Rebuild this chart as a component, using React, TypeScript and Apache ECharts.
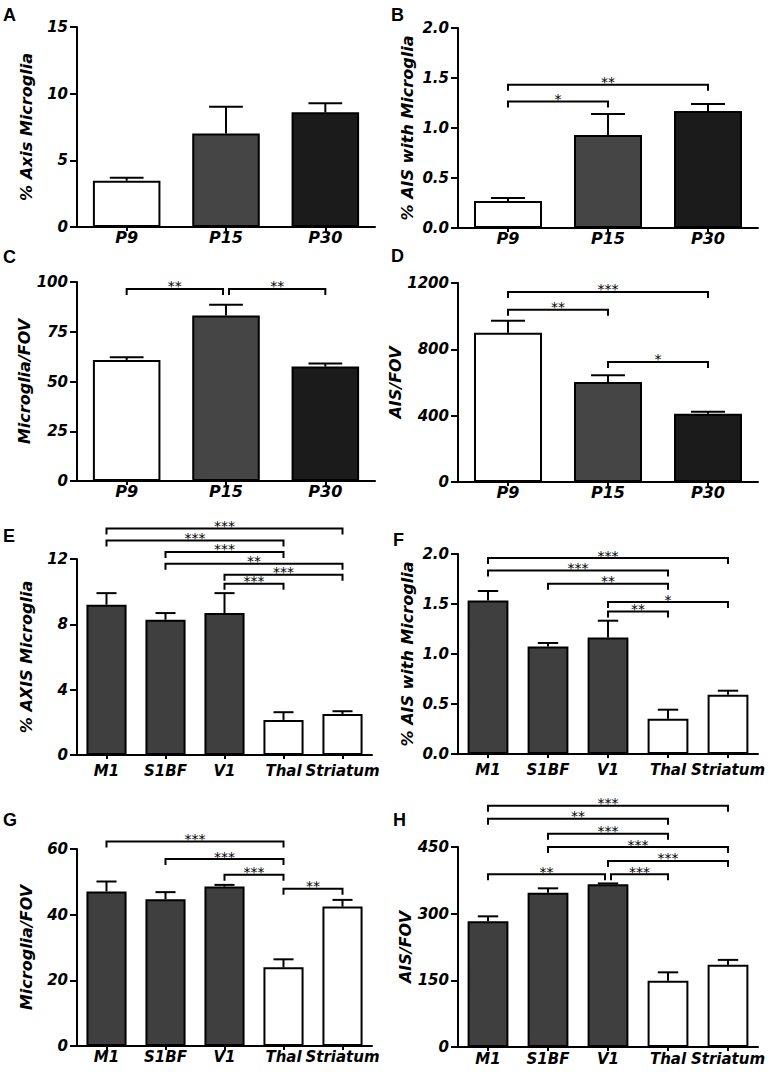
import React, { useEffect, useRef } from "react";
import * as echarts from "echarts";

const agesCats = ["P9", "P15", "P30"];
const regionCats = ["M1", "S1BF", "V1", "Thal", "Striatum"];

const aMean = [3.47, 7.02, 8.6];
const aSem = [0.23, 2.0, 0.68];
const bMean = [0.27, 0.93, 1.17];
const bSem = [0.03, 0.21, 0.07];
const cMean = [60.8, 83.2, 57.5];
const cSem = [1.4, 5.4, 1.5];
const dMean = [900, 603, 412];
const dSem = [73, 40, 12];
const eMean = [9.2, 8.28, 8.69, 2.15, 2.51];
const eSem = [0.71, 0.41, 1.22, 0.47, 0.17];
const fMean = [1.536, 1.076, 1.166, 0.353, 0.593];
const fSem = [0.094, 0.034, 0.167, 0.09, 0.04];
const gMean = [47.05, 44.7, 48.57, 23.95, 42.46];
const gSem = [3.05, 2.16, 0.5, 2.45, 2.04];
const hMean = [283, 347, 366, 149, 185];
const hSem = [11, 10, 2, 19, 11];

// [from category, to category, bracket level, stars]
const bBrackets: [number, number, number, string][] = [
  [0, 1, 1.266, "*"],
  [0, 2, 1.433, "**"],
];
const cBrackets: [number, number, number, string][] = [
  [0, 1, 96.5, "**"],
  [1, 2, 96.5, "**"],
];
const dBrackets: [number, number, number, string][] = [
  [0, 2, 1146, "***"],
  [0, 1, 1039, "**"],
  [1, 2, 724, "*"],
];
const eBrackets: [number, number, number, string][] = [
  [0, 4, 13.86, "***"],
  [0, 3, 13.14, "***"],
  [1, 3, 12.43, "***"],
  [1, 4, 11.71, "**"],
  [2, 4, 11.04, "***"],
  [2, 3, 10.49, "***"],
];
const fBrackets: [number, number, number, string][] = [
  [0, 4, 1.96, "***"],
  [0, 3, 1.836, "***"],
  [1, 3, 1.703, "**"],
  [2, 4, 1.52, "*"],
  [2, 3, 1.426, "**"],
];
const gBrackets: [number, number, number, string][] = [
  [0, 3, 62.3, "***"],
  [1, 3, 56.94, "***"],
  [2, 3, 52.15, "***"],
  [3, 4, 47.87, "**"],
];
const hBrackets: [number, number, number, string][] = [
  [0, 4, 543, "***"],
  [0, 3, 513.7, "**"],
  [1, 3, 480, "***"],
  [1, 4, 450, "***"],
  [2, 4, 418.6, "***"],
  [0, 2, 388.8, "**"],
  [2, 3, 388.8, "***"],
];

const ageColors = ["#ffffff", "#454545", "#1b1b1b"];
const regionColors = ["#3f3f3f", "#3f3f3f", "#3f3f3f", "#ffffff", "#ffffff"];

const FONT = '"DejaVu Sans", "Liberation Sans", Arial, sans-serif';

type Panel = {
  letter: string;
  letterPos: [number, number];
  grid: { left: number; top: number; width: number; height: number };
  cats: string[];
  mean: number[];
  sem: number[];
  colors: string[];
  max: number;
  interval: number;
  decimals: number;
  yName: string;
  brackets: [number, number, number, string][];
  catMargin: number;
  catFont: number;
};

const panels: Panel[] = [
  { letter: "A", letterPos: [3, 6], grid: { left: 77, top: 27, width: 298, height: 200 }, cats: agesCats, mean: aMean, sem: aSem, colors: ageColors, max: 15, interval: 5, decimals: 0, yName: "% Axis Microglia", brackets: [], catMargin: 2, catFont: 16 },
  { letter: "B", letterPos: [391, 6], grid: { left: 458, top: 28, width: 300, height: 200 }, cats: agesCats, mean: bMean, sem: bSem, colors: ageColors, max: 2, interval: 0.5, decimals: 1, yName: "% AIS with Microglia", brackets: bBrackets, catMargin: 2, catFont: 16 },
  { letter: "C", letterPos: [3, 248], grid: { left: 77, top: 282, width: 298, height: 199 }, cats: agesCats, mean: cMean, sem: cSem, colors: ageColors, max: 100, interval: 25, decimals: 0, yName: "Microglia/FOV", brackets: cBrackets, catMargin: 2, catFont: 16 },
  { letter: "D", letterPos: [391, 247], grid: { left: 458, top: 283, width: 300, height: 199 }, cats: agesCats, mean: dMean, sem: dSem, colors: ageColors, max: 1200, interval: 400, decimals: 0, yName: "AIS/FOV", brackets: dBrackets, catMargin: 2, catFont: 16 },
  { letter: "E", letterPos: [3, 527], grid: { left: 77, top: 559, width: 295, height: 196 }, cats: regionCats, mean: eMean, sem: eSem, colors: regionColors, max: 12, interval: 4, decimals: 0, yName: "% AXIS Microglia", brackets: eBrackets, catMargin: 8, catFont: 15 },
  { letter: "F", letterPos: [393, 531], grid: { left: 458, top: 554, width: 300, height: 200 }, cats: regionCats, mean: fMean, sem: fSem, colors: regionColors, max: 2, interval: 0.5, decimals: 1, yName: "% AIS with Microglia", brackets: fBrackets, catMargin: 8, catFont: 15 },
  { letter: "G", letterPos: [3, 811], grid: { left: 77, top: 849, width: 295, height: 197 }, cats: regionCats, mean: gMean, sem: gSem, colors: regionColors, max: 60, interval: 20, decimals: 0, yName: "Microglia/FOV", brackets: gBrackets, catMargin: 3, catFont: 15 },
  { letter: "H", letterPos: [393, 811], grid: { left: 458, top: 847, width: 300, height: 200 }, cats: regionCats, mean: hMean, sem: hSem, colors: regionColors, max: 450, interval: 150, decimals: 0, yName: "AIS/FOV", brackets: hBrackets, catMargin: 4, catFont: 15 },
];

function buildOption() {
  const grids: any[] = [];
  const xAxes: any[] = [];
  const yAxes: any[] = [];
  const series: any[] = [];
  const graphics: any[] = [];

  panels.forEach((p, idx) => {
    grids.push({ ...p.grid, containLabel: false });
    xAxes.push({
      type: "category",
      gridIndex: idx,
      data: p.cats,
      axisLine: { show: true, lineStyle: { color: "#000", width: 2 } },
      axisTick: { show: true, alignWithLabel: true, length: 4, lineStyle: { color: "#000", width: 2 } },
      axisLabel: {
        color: "#000",
        fontFamily: FONT,
        fontWeight: "bold",
        fontStyle: "italic",
        fontSize: p.catFont,
        margin: p.catMargin,
        interval: 0,
      },
      splitLine: { show: false },
    });
    yAxes.push({
      type: "value",
      gridIndex: idx,
      min: 0,
      max: p.max,
      interval: p.interval,
      name: p.yName,
      nameLocation: "middle",
      nameGap: 43,
      nameTextStyle: {
        color: "#000",
        fontFamily: FONT,
        fontWeight: "bold",
        fontStyle: "italic",
        fontSize: 16,
      },
      axisLine: { show: true, lineStyle: { color: "#000", width: 2 } },
      axisTick: { show: true, length: 7, lineStyle: { color: "#000", width: 2 } },
      axisLabel: {
        color: "#000",
        fontFamily: FONT,
        fontWeight: "bold",
        fontStyle: "italic",
        fontSize: 15,
        margin: 9,
        formatter: (v: number) => v.toFixed(p.decimals),
      },
      splitLine: { show: false },
    });

    series.push({
      type: "bar",
      xAxisIndex: idx,
      yAxisIndex: idx,
      barWidth: "68%",
      silent: true,
      z: 2,
      itemStyle: { borderColor: "#000", borderWidth: 2 },
      data: p.mean.map((v, i) => ({ value: v, itemStyle: { color: p.colors[i] } })),
    });

    series.push({
      type: "custom",
      xAxisIndex: idx,
      yAxisIndex: idx,
      silent: true,
      z: 3,
      clip: false,
      itemStyle: { color: "#000" },
      encode: { x: 0, y: 1 },
      data: p.mean.map((m, i) => [i, m + p.sem[i], m]),
      renderItem: (params: any, api: any) => {
        const i = api.value(0);
        const top = api.value(1);
        const mean = api.value(2);
        const pt = api.coord([i, top]);
        const pm = api.coord([i, mean]);
        const band = api.size([1, 0])[0];
        const half = (band * 0.68) / 4;
        return {
          type: "group",
          children: [
            { type: "line", shape: { x1: pt[0], y1: pm[1], x2: pt[0], y2: pt[1] }, style: { stroke: "#000", lineWidth: 2 } },
            { type: "line", shape: { x1: pt[0] - half, y1: pt[1], x2: pt[0] + half, y2: pt[1] }, style: { stroke: "#000", lineWidth: 2 } },
          ],
        };
      },
    });

    if (p.brackets.length) {
      const br = p.brackets;
      series.push({
        type: "custom",
        xAxisIndex: idx,
        yAxisIndex: idx,
        silent: true,
        z: 4,
        clip: false,
        itemStyle: { color: "#000" },
        encode: { x: [0, 1], y: 2 },
        data: br.map((b) => [b[0], b[1], b[2]]),
        renderItem: (params: any, api: any) => {
          const b = br[params.dataIndex];
          const a = api.coord([b[0], b[2]]);
          const c = api.coord([b[1], b[2]]);
          let x1 = a[0];
          let x2 = c[0];
          const shareRight = br.some((o) => o !== b && Math.abs(o[2] - b[2]) < 1e-9 && o[0] === b[1]);
          const shareLeft = br.some((o) => o !== b && Math.abs(o[2] - b[2]) < 1e-9 && o[1] === b[0]);
          if (shareRight) x2 -= 3;
          if (shareLeft) x1 += 3;
          const y = a[1];
          const leg = 6;
          return {
            type: "group",
            children: [
              {
                type: "polyline",
                shape: { points: [[x1, y + leg], [x1, y], [x2, y], [x2, y + leg]] },
                style: { stroke: "#000", lineWidth: 2, fill: null },
              },
              {
                type: "text",
                style: {
                  text: b[3],
                  x: (x1 + x2) / 2,
                  y: y - 2.5,
                  align: "center",
                  verticalAlign: "middle",
                  fontFamily: FONT,
                  fontWeight: "normal",
                  fontSize: 14,
                  fill: "#000",
                  opacity: 1,
                },
              },
            ],
          };
        },
      });
    }

    graphics.push({
      type: "text",
      x: p.letterPos[0],
      y: p.letterPos[1],
      style: {
        text: p.letter,
        fontFamily: '"Liberation Sans", Arial, sans-serif',
        fontWeight: "bold",
        fontSize: 18,
        fill: "#000",
        verticalAlign: "top",
      },
    });
  });

  return {
    animation: false,
    backgroundColor: "#ffffff",
    color: ["#000000"],
    grid: grids,
    xAxis: xAxes,
    yAxis: yAxes,
    series,
    graphic: graphics,
  };
}

export default function App() {
  const ref = useRef<HTMLDivElement>(null);
  useEffect(() => {
    if (!ref.current) return;
    const chart = echarts.init(ref.current, null, { renderer: "svg" });
    chart.setOption(buildOption() as any);
    return () => chart.dispose();
  }, []);
  return (
    <div
      ref={ref}
      style={{ position: "absolute", left: 0, top: 0, width: 777, height: 1072, background: "#fff" }}
    />
  );
}
